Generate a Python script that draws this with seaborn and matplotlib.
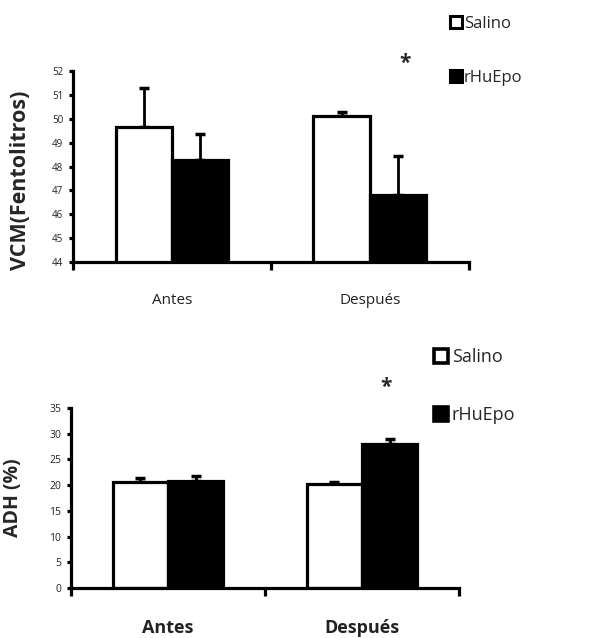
import matplotlib
matplotlib.use("Agg")
import matplotlib.pyplot as plt
import seaborn as sns
import pandas as pd
import numpy as np
from matplotlib.lines import Line2D

categories = ["Antes", "Después"]
groups = ["Salino", "rHuEpo"]

vcm_salino = [49.67, 50.12]
vcm_rhuepo = [48.27, 46.80]
vcm_err_salino = [1.62, 0.15]
vcm_err_rhuepo = [1.08, 1.62]

adh_salino = [20.7, 20.2]
adh_rhuepo = [20.8, 28.0]
adh_err_salino = [0.6, 0.4]
adh_err_rhuepo = [0.9, 1.0]

vcm_ticks = [44, 45, 46, 47, 48, 49, 50, 51, 52]
adh_ticks = [0, 5, 10, 15, 20, 25, 30, 35]

sns.set_theme(style="white")
plt.rcParams['font.family'] = ['Open Sans', 'DejaVu Sans']

fig = plt.figure(figsize=(5.89, 6.38), dpi=100)
ax1 = fig.add_axes([0.124, 0.5893, 0.672, 0.2994])
ax2 = fig.add_axes([0.1205, 0.0784, 0.6587, 0.2821])


def make_df(sal, rhu):
    return pd.DataFrame({
        "cat": categories * 2,
        "group": [groups[0]] * 2 + [groups[1]] * 2,
        "val": list(sal) + list(rhu),
    })


def draw(ax, sal, rhu, esal, erhu, ticks, ylabel, yl_fs, tick_fs, xl_fs, xl_weight, xl_pad, ylab_xy):
    df = make_df(sal, rhu)
    sns.barplot(data=df, x="cat", y="val", hue="group", hue_order=groups,
                palette=["white", "black"], edgecolor="black", linewidth=2.3,
                width=0.57, errorbar=None, legend=False, ax=ax, zorder=3)
    for cont, errs in zip(ax.containers, [esal, erhu]):
        xs = [p.get_x() + p.get_width() / 2 for p in cont.patches]
        ys = [p.get_height() for p in cont.patches]
        ax.errorbar(xs, ys, yerr=[np.zeros(len(errs)), errs], fmt="none",
                    ecolor="black", elinewidth=2.0, capsize=3.5, capthick=2.5, zorder=2)
    ax.set_ylim(ticks[0], ticks[-1])
    ax.set_yticks(ticks)
    ax.set_yticklabels([str(t) for t in ticks], fontsize=tick_fs, color="#222222")
    ax.set_xlim(-0.5, 1.5)
    ax.set_xticks([-0.5, 0.5, 1.5])
    ax.set_xticklabels(["", "", ""])
    ax.set_xticks([0, 1], minor=True)
    ax.set_xticklabels(categories, minor=True, fontsize=xl_fs, fontweight=xl_weight, color="#222222")
    ax.tick_params(axis="x", which="major", direction="out", length=6, width=2.3, color="black", bottom=True)
    ax.tick_params(axis="x", which="minor", length=0, pad=xl_pad, bottom=True)
    ax.tick_params(axis="y", direction="out", length=3, width=2.3, color="black", left=True, pad=4)
    ax.set_xlabel("")
    ax.set_ylabel(ylabel, fontsize=yl_fs, fontweight="bold")
    ax.yaxis.set_label_coords(*ylab_xy)
    for s in ["top", "right"]:
        ax.spines[s].set_visible(False)
    for s in ["left", "bottom"]:
        ax.spines[s].set_linewidth(2.3)
        ax.spines[s].set_color("black")
    ax.spines["bottom"].set_zorder(5)
    ax.set_facecolor("white")


draw(ax1, vcm_salino, vcm_rhuepo, vcm_err_salino, vcm_err_rhuepo, vcm_ticks,
     "VCM(Fentolitros)", 15.5, 7, 11, "normal", 22, (-0.105, 0.43))
draw(ax2, adh_salino, adh_rhuepo, adh_err_salino, adh_err_rhuepo, adh_ticks,
     "ADH (%)", 14, 7.5, 13, "bold", 22, (-0.123, 0.5))

# asterisks above the rHuEpo "Después" bar
p1 = ax1.containers[1].patches[1]
ax1.text(p1.get_x() + p1.get_width() / 2 + 0.035, 51.88, "*", ha="center", va="bottom",
         fontsize=15, fontweight="bold", clip_on=False)
p2 = ax2.containers[1].patches[1]
ax2.text(p2.get_x() + p2.get_width() / 2 - 0.02, 37.0, "*", ha="center", va="bottom",
         fontsize=15, fontweight="bold", clip_on=False)


def handles(ms, mew):
    return [Line2D([0], [0], marker="s", linestyle="none", markersize=ms,
                   markerfacecolor=c, markeredgecolor="black", markeredgewidth=mew)
            for c in ["white", "black"]]


fig.legend(handles(9, 2.2), groups, loc="upper left", bbox_to_anchor=(0.744, 0.993),
           frameon=False, fontsize=12, labelspacing=2.25, handlelength=0.7,
           handletextpad=0.15, borderaxespad=0.3, borderpad=0.4)
fig.legend(handles(10, 2.6), groups, loc="upper left", bbox_to_anchor=(0.715, 0.474),
           frameon=False, fontsize=13, labelspacing=2.2, handlelength=0.8,
           handletextpad=0.2, borderaxespad=0.3, borderpad=0.4)

fig.savefig("out.png", dpi=100, facecolor="white")
